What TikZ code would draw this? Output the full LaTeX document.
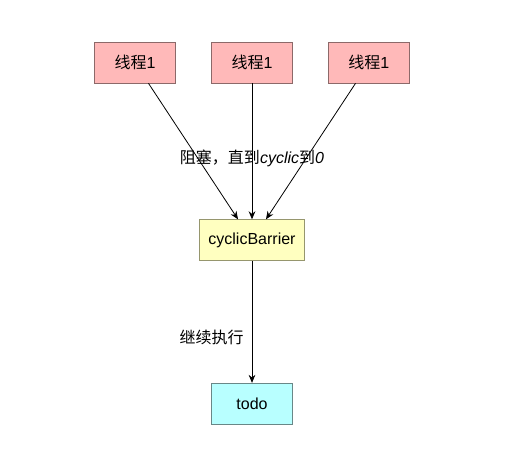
\documentclass[tikz,border=0pt]{standalone}
\usepackage{fontspec}
\setmainfont{Liberation Sans}
\newfontfamily\cjk{Noto Sans CJK SC}
\usetikzlibrary{positioning,arrows.meta}
\definecolor{threadfill}{RGB}{255,185,185}
\definecolor{threaddraw}{RGB}{140,105,105}
\definecolor{barrierfill}{RGB}{255,255,192}
\definecolor{barrierdraw}{RGB}{150,150,110}
\definecolor{todofill}{RGB}{184,255,255}
\definecolor{tododraw}{RGB}{105,135,135}
\tikzset{
  box/.style={minimum width=60.75pt,minimum height=30.75pt,inner sep=0pt,
    font=\fontsize{12}{14}\selectfont},
  thread/.style={box,draw=threaddraw,fill=threadfill},
  barrier/.style={box,draw=barrierdraw,fill=barrierfill,minimum width=78.75pt},
  todobox/.style={box,draw=tododraw,fill=todofill},
  flow/.style={-{Stealth[length=6pt,width=5pt]},line width=0.6pt},
  lbl/.style={font=\fontsize{12}{14}\selectfont,inner sep=0pt}
}
\begin{document}
\begin{tikzpicture}
        \useasboundingbox (0,0) rectangle (390pt,-337.5pt);
        \node[thread] (t2) at (189pt,-46.9pt) {{\cjk 线程}1};
        \node[thread,left=26.5pt of t2] (t1) {{\cjk 线程}1};
        \node[thread,right=26.5pt of t2] (t3) {{\cjk 线程}1};
        \node[barrier,below=102pt of t2] (cb) {cyclicBarrier};
        \node[todobox,below=91.5pt of cb] (todo) {todo};
        \node[lbl,below=50pt of t2] (wait) {{\cjk 阻塞，直到}\textit{cyclic}{\cjk 到}\textit{0}};
        \draw[flow] ([xshift=10pt]t1.south) -- ([xshift=-10.5pt]cb.north);
        \draw[flow] (t2.south) -- (cb.north);
        \draw[flow] ([xshift=-10pt]t3.south) -- ([xshift=10.5pt]cb.north);
        \draw[flow] (cb.south) -- node[lbl,pos=0.63,left=6pt] {\cjk 继续执行} (todo.north);
\end{tikzpicture}
\end{document}
